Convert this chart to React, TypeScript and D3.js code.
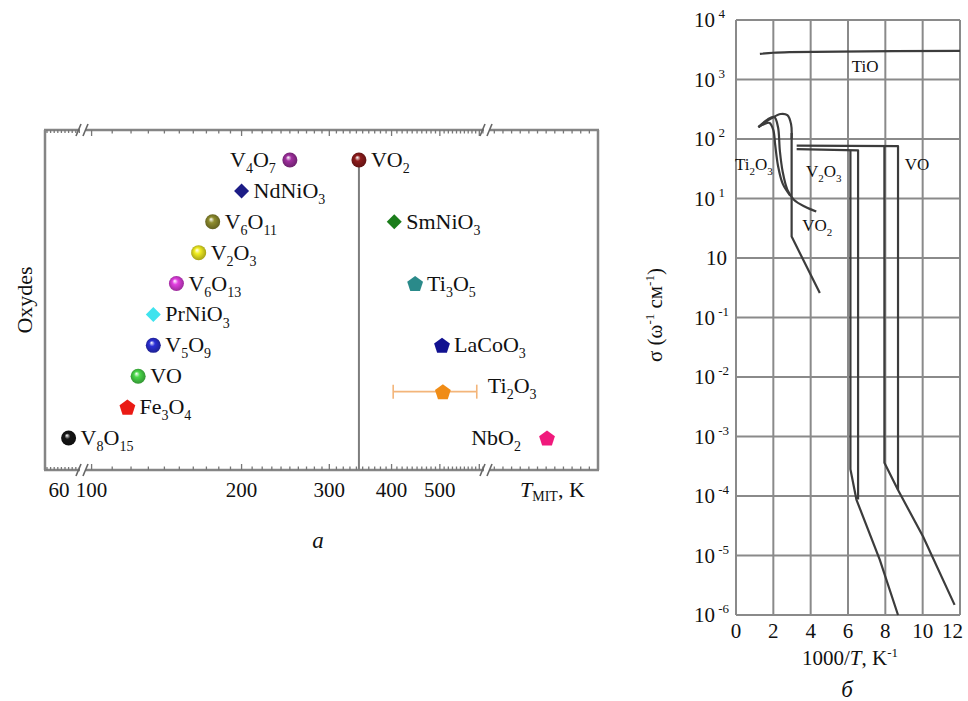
import React from 'react'
import * as d3 from 'd3'

// ---- panel a: metal-insulator transition temperatures ----
const oxides = ['V4O7', 'VO2', 'NdNiO3', 'V6O11', 'SmNiO3', 'V2O3', 'V6O13', 'Ti3O5', 'PrNiO3', 'V5O9', 'LaCoO3', 'VO', 'Ti2O3', 'Fe3O4', 'V8O15', 'NbO2']
const tMit = [250, 344, 200, 175, 405, 164, 148, 446, 133, 133, 505, 124, 507, 118, 68, 1082]
const rowRank = [0, 0, 1, 2, 2, 3, 4, 4, 5, 6, 6, 7, 7.5, 8, 9, 9]
const markerKind = ['sphere', 'sphere', 'diamond', 'sphere', 'diamond', 'sphere', 'sphere', 'pentagon', 'diamond', 'sphere', 'pentagon', 'sphere', 'pentagon', 'pentagon', 'sphere', 'pentagon']
const markerColor = ['#a0309f', '#8e1c1c', '#1c1c86', '#8f8d2e', '#1b7d1b', '#f2ee22', '#e23fe0', '#2a8a8a', '#3fe3ee', '#2b2fd6', '#111190', '#4ad84a', '#f08c16', '#ea1a14', '#151515', '#f0197c']
const ti2o3Err = [403, 593]
const lowTickLabels = [60]
const mainTickLabels = [100, 200, 300, 400, 500]

// ---- panel б: conductivity vs 1000/T ----
const xTicksB = [0, 2, 4, 6, 8, 10, 12]
const yExpTicks = [4, 3, 2, 1, 0, -1, -2, -3, -4, -5, -6]
const tioCurve: [number, number][] = [[1.28, 3.43], [2.0, 3.45], [2.9, 3.46], [5.5, 3.47], [12, 3.48]]
const ti2o3CurveA: [number, number][] = [[1.2, 2.2], [1.7, 2.33], [2.05, 2.37], [2.25, 2.2], [2.35, 1.8], [2.5, 1.45], [2.75, 1.15], [3.1, 0.98], [3.7, 0.86], [4.3, 0.78]]
const ti2o3CurveB: [number, number][] = [[1.2, 2.2], [1.5, 2.25], [1.8, 2.27], [2.0, 2.15], [2.1, 1.9], [2.25, 1.55], [2.5, 1.25], [2.9, 1.05]]
const vo2Top: [number, number][] = [[1.2, 2.2], [1.9, 2.35], [2.4, 2.42], [2.75, 2.4], [2.95, 2.25], [2.98, 2.0]]
const vo2Drop: [number, number][] = [[2.98, 2.1], [2.98, 0.36], [4.49, -0.59]]
const v2o3Cool: [number, number][] = [[3.25, 1.83], [6.54, 1.81], [6.54, -4.06]]
const v2o3Heat: [number, number][] = [[6.13, 1.81], [6.13, -3.55], [6.45, -4.06], [7.7, -5.07], [8.68, -6.0]]
const voCool: [number, number][] = [[3.25, 1.89], [8.68, 1.88], [8.68, -3.9]]
const voHeat: [number, number][] = [[7.95, 1.88], [7.95, -3.44], [8.68, -3.9], [10.02, -4.68], [11.71, -5.83]]
const curveLabels = ['TiO', 'Ti2O3', 'V2O3', 'VO2', 'VO']
const curveLabelAt: [number, number][] = [[6.2, 3.13], [-0.05, 1.48], [3.75, 1.36], [3.55, 0.45], [9.04, 1.48]]

const font = '"Liberation Serif", "Times New Roman", serif'

function Formula({ text, x, y, size, sub, anchor = 'start', fill = '#111' }: any) {
  const parts = text.match(/\d+|\D+/g) || []
  const drop = size * 0.28
  let shifted = false
  return (
    <text x={x} y={y} fontSize={size} textAnchor={anchor} fontFamily={font} fill={fill}>
      {parts.map((p: string, i: number) => {
        const isNum = /\d/.test(p)
        let dy = 0
        if (isNum && !shifted) { dy = drop; shifted = true }
        else if (!isNum && shifted) { dy = -drop; shifted = false }
        return (
          <tspan key={i} dy={dy} fontSize={isNum ? sub : size}>{p}</tspan>
        )
      })}
    </text>
  )
}

const pentagon = (r: number) => {
  const pts = d3.range(5).map((k) => {
    const a = -Math.PI / 2 + (k * 2 * Math.PI) / 5
    return [r * Math.cos(a), r * Math.sin(a)]
  })
  return 'M' + pts.map((p) => p.join(',')).join('L') + 'Z'
}

const labelOffset: Record<string, [number, number, string]> = {
  V4O7: [-14, 0, 'end'],
  NbO2: [-26, 0, 'end'],
  Ti2O3: [45, -6, 'start'],
}

const App: React.FC = () => {
  const frame = { left: 45, right: 598, top: 130, bottom: 470 }
  const xLow = d3.scaleLinear().domain([50, 80]).range([47, 83])
  const xMain = d3.scaleLog().domain([97, 616]).range([85, 485])
  const xHigh = d3.scaleLinear().domain([950, 1200]).range([490, 598])
  const xT = (t: number) => (t < 90 ? xLow(t) : t > 700 ? xHigh(t) : xMain(t))
  const yRank = d3.scaleLinear().domain([0, 9]).range([160, 438])

  const lowTicks = d3.range(50, 80, 3)
  const mainTicks = d3.range(100, 611, 10)
  const highTicks = d3.range(960, 1200, 20)
  const breaks = [83, 487]

  const xU = d3.scaleLinear().domain([0, 12]).range([736, 960])
  const yL = d3.scaleLinear().domain([-6, 4]).range([615, 20])
  const line = d3.line<[number, number]>().x((d) => xU(d[0])).y((d) => yL(d[1]))
  const smooth = d3.line<[number, number]>().x((d) => xU(d[0])).y((d) => yL(d[1])).curve(d3.curveCatmullRom.alpha(0.5))

  const vo2Idx = oxides.indexOf('VO2')
  const ti2Idx = oxides.indexOf('Ti2O3')

  const axisStroke = '#858585'

  return (
    <svg width={968} height={701} style={{ position: 'absolute', left: 0, top: 0, background: '#fff' }} fontFamily={font}>
      <defs>
        {markerColor.map((c, i) => (
          <radialGradient key={i} id={`sph${i}`} cx="50%" cy="50%" r="55%" fx="38%" fy="32%">
            <stop offset="0%" stopColor="#ffffff" />
            <stop offset="35%" stopColor={c} />
            <stop offset="100%" stopColor={d3.color(c)!.darker(1.2).toString()} />
          </radialGradient>
        ))}
      </defs>

      {/* ---------- panel a ---------- */}
      <g>
        <line x1={frame.left} x2={frame.left} y1={frame.top} y2={frame.bottom} stroke={axisStroke} strokeWidth={2.5} />
        <line x1={frame.right} x2={frame.right} y1={frame.top} y2={frame.bottom} stroke={axisStroke} strokeWidth={2.5} />
        {[frame.top, frame.bottom].map((y, k) => (
          <g key={k}>
            <line x1={frame.left - 1} x2={frame.right + 1} y1={y} y2={y} stroke={axisStroke} strokeWidth={2.5} />
            {[...lowTicks.map((t) => [xLow(t), 3]), ...mainTicks.map((t) => [xMain(t), t % 100 === 0 ? 6 : 3.5]), ...highTicks.map((t) => [xHigh(t), 3.5])].map(([x, len], i) => (
              <line key={i} x1={x} x2={x} y1={y} y2={k === 0 ? y + len : y - len} stroke="#777" strokeWidth={1.3} />
            ))}
            {breaks.map((bx, j) => (
              <g key={j}>
                <rect x={bx - 3} y={y - 3} width={6} height={6} fill="#fff" />
                <line x1={bx - 7} y1={y + 6} x2={bx - 2} y2={y - 6} stroke="#666" strokeWidth={1.6} />
                <line x1={bx + 0} y1={y + 6} x2={bx + 5} y2={y - 6} stroke="#666" strokeWidth={1.6} />
              </g>
            ))}
          </g>
        ))}

        {/* VO2 guide line */}
        <line x1={xT(tMit[vo2Idx])} x2={xT(tMit[vo2Idx])} y1={yRank(rowRank[vo2Idx])} y2={frame.bottom} stroke="#7d7d7d" strokeWidth={2} />

        {/* Ti2O3 error bar */}
        <g stroke="#f3b57a" strokeWidth={1.6}>
          <line x1={xT(ti2o3Err[0])} x2={xT(ti2o3Err[1])} y1={yRank(rowRank[ti2Idx])} y2={yRank(rowRank[ti2Idx])} />
          {ti2o3Err.map((t, i) => (
            <line key={i} x1={xT(t)} x2={xT(t)} y1={yRank(rowRank[ti2Idx]) - 7} y2={yRank(rowRank[ti2Idx]) + 7} />
          ))}
        </g>

        {oxides.map((name, i) => {
          const cx = xT(tMit[i])
          const cy = yRank(rowRank[i])
          const kind = markerKind[i]
          const [dx, dy, anchor] = labelOffset[name] || [12, 0, 'start']
          return (
            <g key={name}>
              {kind === 'sphere' && <circle cx={cx} cy={cy} r={7.5} fill={`url(#sph${i})`} />}
              {kind === 'diamond' && <path d="M0,-7.5L7.5,0L0,7.5L-7.5,0Z" transform={`translate(${cx},${cy})`} fill={markerColor[i]} />}
              {kind === 'pentagon' && <path d={pentagon(8.3)} transform={`translate(${cx},${cy + 0.8})`} fill={markerColor[i]} />}
              <Formula text={name} x={cx + dx} y={cy + 7 + dy} size={22} sub={14} anchor={anchor} />
            </g>
          )
        })}

        {/* tick labels */}
        {lowTickLabels.map((t) => (
          <text key={t} x={xLow(t)} y={497} fontSize={21} textAnchor="middle" fill="#111">{t}</text>
        ))}
        {mainTickLabels.map((t) => (
          <text key={t} x={xMain(t)} y={497} fontSize={21} textAnchor="middle" fill="#111">{t}</text>
        ))}
        <text x={520} y={497} fontSize={22} fill="#111">
          <tspan fontStyle="italic">T</tspan>
          <tspan fontSize={14} dy={4}>MIT</tspan>
          <tspan dy={-4}>, K</tspan>
        </text>
        <text transform="translate(32,300) rotate(-90)" fontSize={22} textAnchor="middle" fill="#111">Oxydes</text>
        <text x={318} y={548} fontSize={23} fontStyle="italic" textAnchor="middle" fill="#111">a</text>
      </g>

      {/* ---------- panel б ---------- */}
      <g>
        {xTicksB.map((u) => (
          <line key={u} x1={xU(u)} x2={xU(u)} y1={yL(4)} y2={yL(-6)} stroke="#8a8a8a" strokeWidth={2} />
        ))}
        {yExpTicks.map((e) => (
          <line key={e} x1={xU(0)} x2={xU(12)} y1={yL(e)} y2={yL(e)} stroke="#8a8a8a" strokeWidth={2} />
        ))}

        <g fill="none" stroke="#3c3c3c" strokeWidth={2.2} strokeLinejoin="round">
          <path d={smooth(tioCurve)!} />
          <path d={smooth(ti2o3CurveA)!} />
          <path d={smooth(ti2o3CurveB)!} />
          <path d={smooth(vo2Top)!} />
          <path d={line(vo2Drop)!} />
          <path d={line(v2o3Cool)!} />
          <path d={line(v2o3Heat)!} />
          <path d={line(voCool)!} />
          <path d={line(voHeat)!} />
        </g>

        {curveLabels.map((name, i) => (
          <Formula key={name} text={name} x={xU(curveLabelAt[i][0])} y={yL(curveLabelAt[i][1])} size={17} sub={11} />
        ))}

        {xTicksB.map((u, i) => {
          const last = i === xTicksB.length - 1
          return (
            <text key={u} x={last ? 963 : xU(u)} y={638} fontSize={21} textAnchor={last ? 'end' : 'middle'} fill="#111">{u}</text>
          )
        })}
        {yExpTicks.map((e) => (
          <text key={e} x={e === 0 ? 727 : 715} y={yL(e) + 7} fontSize={21} textAnchor="end" fill="#111">
            {e === 0 ? '10' : (
              <>
                10<tspan fontSize={13} dy={-9} x={e < 0 ? 729 : 725} textAnchor="end">{String(e)}</tspan>
              </>
            )}
          </text>
        ))}

        <text x={850} y={665} fontSize={21} textAnchor="middle" fill="#111">
          1000/<tspan fontStyle="italic">T</tspan>, K<tspan fontSize={13} dy={-8}>-1</tspan>
        </text>
        <text transform="translate(662,315) rotate(-90)" fontSize={21} textAnchor="middle" fill="#111">
          σ (ω<tspan fontSize={13} dy={-8}>-1</tspan>
          <tspan dy={8}> cм</tspan>
          <tspan fontSize={13} dy={-8}>-1</tspan>
          <tspan dy={8}>)</tspan>
        </text>
        <text x={847} y={697} fontSize={23} fontStyle="italic" textAnchor="middle" fill="#111">б</text>
      </g>
    </svg>
  )
}

export default App
